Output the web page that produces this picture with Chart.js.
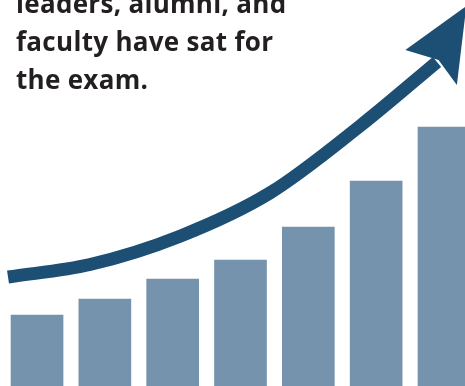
<!DOCTYPE html>
<html>
<head>
<meta charset="utf-8">
<script src="https://cdn.jsdelivr.net/npm/chart.js@4/dist/chart.umd.min.js"></script>
<style>
  html, body { margin: 0; padding: 0; background: #ffffff; overflow: hidden; }
  #wrap { position: relative; width: 465px; height: 386px; overflow: hidden; }
  #chart { position: absolute; left: 0; top: 0; width: 465px; height: 386px; }
  #caption {
    position: absolute; left: 16px; top: -16px;
    font-family: "Open Sans", sans-serif; font-weight: 700;
    font-size: 26px; line-height: 38px; color: #231f20;
    letter-spacing: 0.3px; white-space: nowrap; z-index: 2;
  }
</style>
</head>
<body>
<div id="wrap">
  <div id="caption">leaders, alumni, and<br>faculty have sat for<br>the exam.</div>
  <div id="chart"><canvas id="c"></canvas></div>
</div>
<script>
// Data (no axes shown; values in relative units)
const categories = ['1', '2', '3', '4', '5', '6', '7'];
const barPositions = [0, 1, 2, 3, 4, 5, 6];
const barValues = [71, 87, 107, 126, 159, 205, 259];

// Rising trend arrow (shaft)
const curveX = [-0.428, 0.781, 2.108, 3.435, 4.762, 5.897];
const curveY = [109, 121.5, 149.8, 193.1, 260, 324];

// Arrow head: tip, left barb, notch, right barb
const headX = [6.33, 5.43, 5.92, 6.19];
const headY = [380, 336, 326, 301];

const BAR_COLOR = '#7593ac';
const ARROW_COLOR = '#1d4f75';

const arrowHead = {
  id: 'arrowHead',
  afterDatasetsDraw(chart) {
    const { ctx, scales: { x, y } } = chart;
    ctx.save();
    ctx.fillStyle = ARROW_COLOR;
    ctx.beginPath();
    headX.forEach((hx, i) => {
      const px = x.getPixelForValue(hx);
      const py = y.getPixelForValue(headY[i]);
      if (i === 0) ctx.moveTo(px, py); else ctx.lineTo(px, py);
    });
    ctx.closePath();
    ctx.fill();
    ctx.restore();
  }
};

new Chart(document.getElementById('c'), {
  type: 'bar',
  data: {
    labels: categories,
    datasets: [
      {
        type: 'line',
        data: curveX.map((v, i) => ({ x: v, y: curveY[i] })),
        borderColor: ARROW_COLOR,
        borderWidth: 13,
        borderCapStyle: 'butt',
        pointRadius: 0,
        cubicInterpolationMode: 'monotone',
        fill: false,
        order: 0
      },
      {
        type: 'bar',
        data: barPositions.map((v, i) => ({ x: v, y: barValues[i] })),
        backgroundColor: BAR_COLOR,
        borderWidth: 0,
        barThickness: 52,
        order: 1
      }
    ]
  },
  options: {
    responsive: true,
    maintainAspectRatio: false,
    animation: false,
    layout: { padding: 0 },
    plugins: { legend: { display: false }, tooltip: { enabled: false }, title: { display: false } },
    scales: {
      x: { type: 'linear', display: false, offset: false, bounds: 'ticks', min: -0.546, max: 6.31, grid: { display: false } },
      y: { display: false, min: 0, max: 386, grid: { display: false } }
    }
  },
  plugins: [arrowHead]
});
</script>
</body>
</html>
